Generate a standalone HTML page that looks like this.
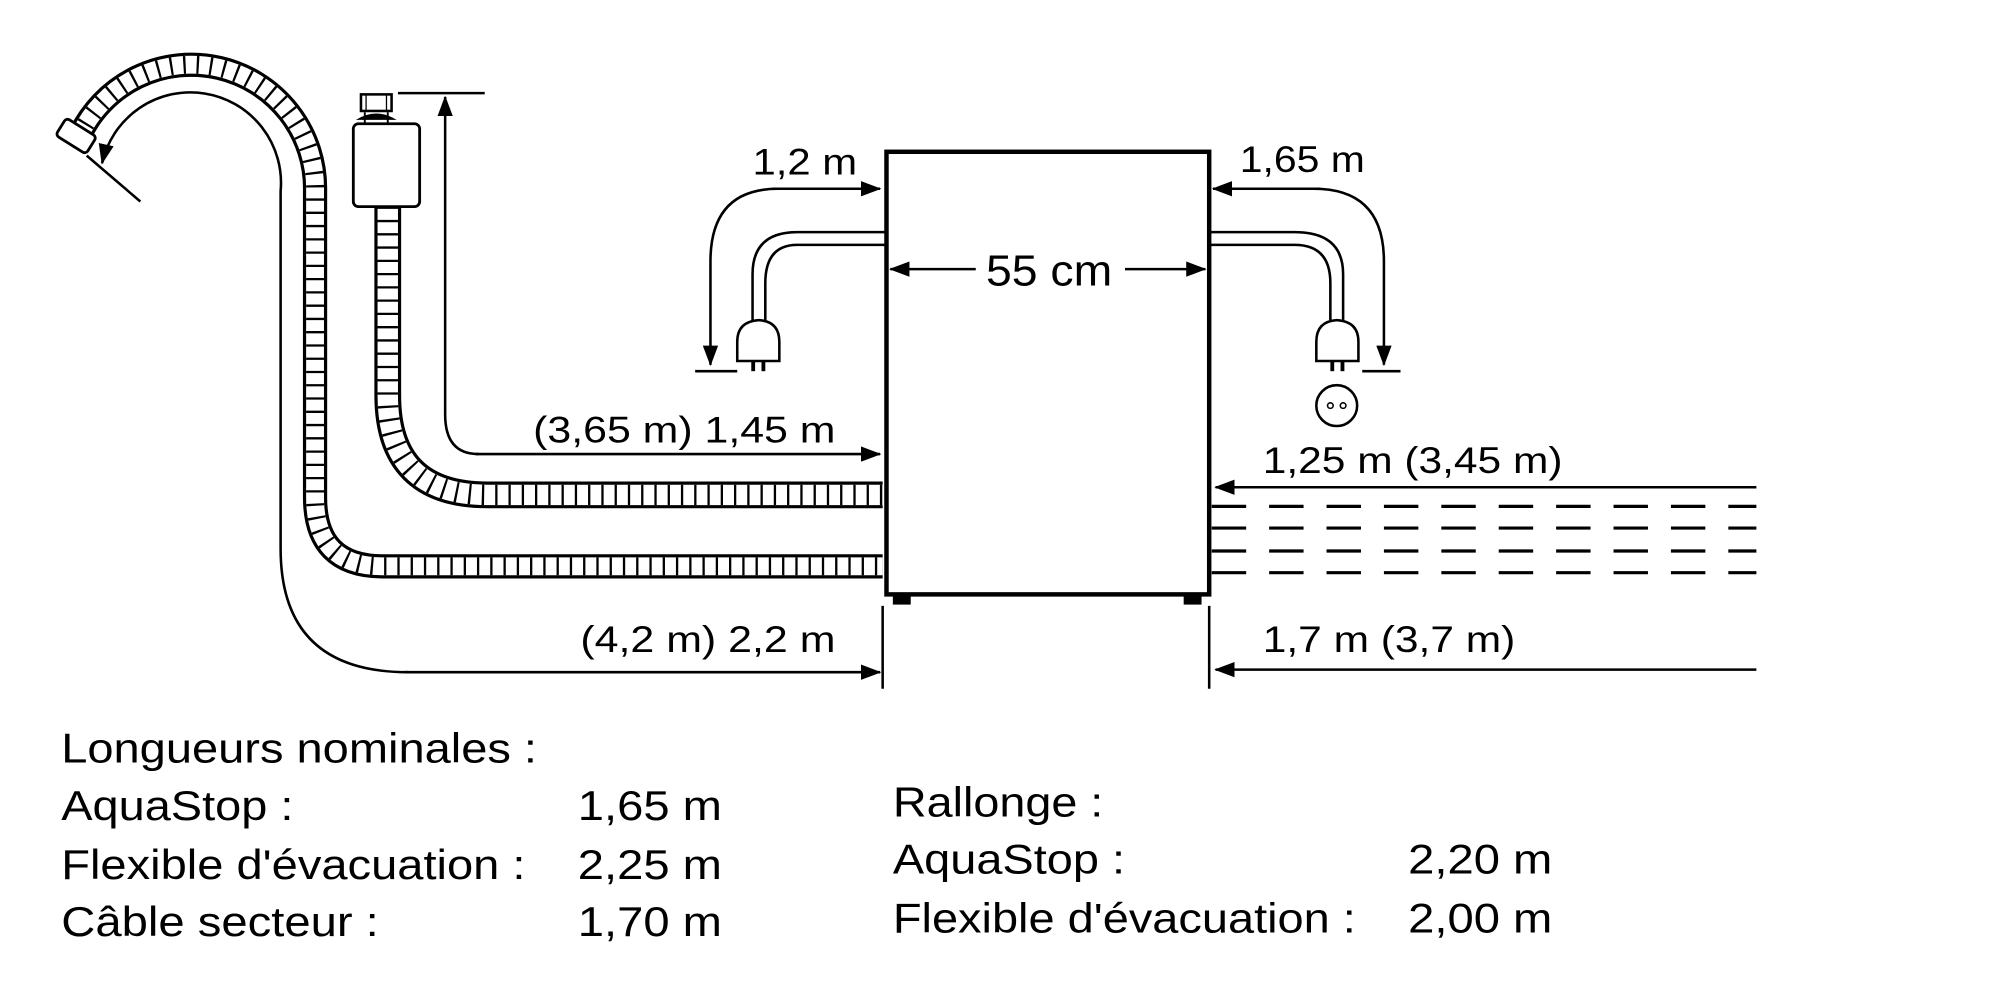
<!DOCTYPE html>
<html><head><meta charset="utf-8"><style>
html,body{margin:0;padding:0;background:#fff;}
svg{display:block;}
text{font-family:"Liberation Sans",Arial,sans-serif;fill:#000;}
</style></head><body>
<svg width="2000" height="1000" viewBox="0 0 1568 784" preserveAspectRatio="none" xmlns="http://www.w3.org/2000/svg">
<defs>
<marker id="a" markerWidth="16" markerHeight="12" refX="15" refY="6" orient="auto" markerUnits="userSpaceOnUse">
<path d="M0,0 L16,6 L0,12 Z" fill="#000"/>
</marker>
</defs>
<rect width="1568" height="784" fill="#fff"/>

<!-- drain hose -->
<g fill="none">
<path d="M62,107 A97,97 0 0 1 247,150 L247,390 Q247,444 300,444 L692,444" stroke="#000" stroke-width="19"/>
<path d="M62,107 A97,97 0 0 1 247,150 L247,390 Q247,444 300,444 L692,444" stroke="#fff" stroke-width="14"/>
<path d="M62,107 A97,97 0 0 1 247,150 L247,390 Q247,444 300,444 L692,444" stroke="#000" stroke-width="14" stroke-dasharray="1.8 8.6"/>
</g>
<g transform="translate(60,108) rotate(32)">
<rect x="-15" y="-9" width="28" height="16" rx="3" fill="#fff" stroke="#000" stroke-width="2.2"/>
</g>
<line x1="68" y1="122" x2="110" y2="158" stroke="#000" stroke-width="2"/>

<path d="M320,527 Q220,527 220,430 L220,150 A71,71 0 0 0 80,128" fill="none" stroke="#000" stroke-width="2" marker-end="url(#a)"/>
<path d="M318,527 L690,527" fill="none" stroke="#000" stroke-width="2" marker-end="url(#a)"/>

<!-- inlet hose -->
<g fill="none">
<path d="M304,162 L304,310 Q304,388 382,388 L692,388" stroke="#000" stroke-width="21"/>
<path d="M304,162 L304,310 Q304,388 382,388 L692,388" stroke="#fff" stroke-width="16"/>
<path d="M304,162 L304,310 Q304,388 382,388 L692,388" stroke="#000" stroke-width="16" stroke-dasharray="1.8 8.6"/>
</g>
<rect x="277" y="97" width="52" height="65" rx="4" fill="#fff" stroke="#000" stroke-width="2.2"/>
<rect x="283" y="74" width="24" height="13" fill="#fff" stroke="#000" stroke-width="2"/>
<line x1="287" y1="74" x2="287" y2="87" stroke="#000" stroke-width="1"/>
<line x1="303" y1="74" x2="303" y2="87" stroke="#000" stroke-width="1"/>
<path d="M279,94 Q295,84 311,94 Z" fill="#000"/>
<line x1="286" y1="88" x2="286" y2="97" stroke="#000" stroke-width="1.5"/>
<line x1="304" y1="88" x2="304" y2="97" stroke="#000" stroke-width="1.5"/>

<line x1="312" y1="73" x2="380" y2="73" stroke="#000" stroke-width="2"/>
<path d="M375,356 Q349,356 349,325 L349,76" fill="none" stroke="#000" stroke-width="2" marker-end="url(#a)"/>
<path d="M373,356 L690,356" fill="none" stroke="#000" stroke-width="2" marker-end="url(#a)"/>

<!-- appliance box -->
<rect x="695" y="119" width="253" height="347" fill="#fff" stroke="#000" stroke-width="3.5"/>
<rect x="700" y="466" width="14" height="8" fill="#000"/>
<rect x="928" y="466" width="14" height="8" fill="#000"/>
<line x1="692" y1="475" x2="692" y2="540" stroke="#000" stroke-width="2"/>
<line x1="948" y1="475" x2="948" y2="540" stroke="#000" stroke-width="2"/>

<line x1="765" y1="211" x2="698" y2="211" stroke="#000" stroke-width="2" marker-end="url(#a)"/>
<line x1="882" y1="211" x2="945" y2="211" stroke="#000" stroke-width="2" marker-end="url(#a)"/>
<text x="773" y="224" font-size="34" textLength="99" lengthAdjust="spacingAndGlyphs">55 cm</text>

<!-- left cable -->
<path d="M695,182 L625,182 Q590,182 590,215 L590,258 M695,192 L625,192 Q600,192 600,222 L600,258" fill="none" stroke="#000" stroke-width="2"/>
<path d="M578,283 L578,268 Q578,252 595,251 Q611,252 611,268 L611,283 Z" fill="#fff" stroke="#000" stroke-width="2"/>
<rect x="589" y="283" width="3" height="8" fill="#000"/>
<rect x="597" y="283" width="3" height="8" fill="#000"/>
<path d="M605,148 L690,148" fill="none" stroke="#000" stroke-width="2" marker-end="url(#a)"/>
<path d="M610,148 Q557,148 557,205 L557,286" fill="none" stroke="#000" stroke-width="2" marker-end="url(#a)"/>
<line x1="545" y1="291" x2="578" y2="291" stroke="#000" stroke-width="2"/>
<text x="590" y="137" font-size="29" textLength="82" lengthAdjust="spacingAndGlyphs">1,2 m</text>

<!-- right cable -->
<path d="M948,182 L1015,182 Q1053,182 1053,215 L1053,258 M948,192 L1015,192 Q1043,192 1043,222 L1043,258" fill="none" stroke="#000" stroke-width="2"/>
<path d="M1032,283 L1032,268 Q1032,252 1048,251 Q1065,252 1065,268 L1065,283 Z" fill="#fff" stroke="#000" stroke-width="2"/>
<rect x="1043" y="283" width="3" height="8" fill="#000"/>
<rect x="1051" y="283" width="3" height="8" fill="#000"/>
<path d="M1035,148 L951,148" fill="none" stroke="#000" stroke-width="2" marker-end="url(#a)"/>
<path d="M1030,148 Q1085,148 1085,205 L1085,286" fill="none" stroke="#000" stroke-width="2" marker-end="url(#a)"/>
<line x1="1068" y1="291" x2="1098" y2="291" stroke="#000" stroke-width="2"/>
<circle cx="1048" cy="318" r="16" fill="#fff" stroke="#000" stroke-width="2"/>
<circle cx="1043" cy="318" r="2.2" fill="none" stroke="#000" stroke-width="1.2"/>
<circle cx="1053" cy="318" r="2.2" fill="none" stroke="#000" stroke-width="1.2"/>
<text x="972" y="135" font-size="29" textLength="98" lengthAdjust="spacingAndGlyphs">1,65 m</text>

<line x1="1377" y1="382" x2="953" y2="382" stroke="#000" stroke-width="2" marker-end="url(#a)"/>
<text x="990" y="371" font-size="29" textLength="235" lengthAdjust="spacingAndGlyphs">1,25 m (3,45 m)</text>
<g stroke="#000" stroke-width="2.5" stroke-dasharray="27 18">
<line x1="950" y1="397" x2="1377" y2="397"/>
<line x1="950" y1="414" x2="1377" y2="414"/>
<line x1="950" y1="432" x2="1377" y2="432"/>
<line x1="950" y1="449" x2="1377" y2="449"/>
</g>
<line x1="1377" y1="525" x2="953" y2="525" stroke="#000" stroke-width="2" marker-end="url(#a)"/>
<text x="990" y="511" font-size="29" textLength="198" lengthAdjust="spacingAndGlyphs">1,7 m (3,7 m)</text>

<text x="418" y="347" font-size="29" textLength="237" lengthAdjust="spacingAndGlyphs">(3,65 m) 1,45 m</text>
<text x="455" y="511" font-size="29" textLength="200" lengthAdjust="spacingAndGlyphs">(4,2 m) 2,2 m</text>

<g font-size="33">
<text x="48" y="598" textLength="373" lengthAdjust="spacingAndGlyphs">Longueurs nominales :</text>
<text x="48" y="643" textLength="182" lengthAdjust="spacingAndGlyphs">AquaStop :</text>
<text x="453" y="643" textLength="113" lengthAdjust="spacingAndGlyphs">1,65 m</text>
<text x="48" y="689" textLength="364" lengthAdjust="spacingAndGlyphs">Flexible d'évacuation :</text>
<text x="453" y="689" textLength="113" lengthAdjust="spacingAndGlyphs">2,25 m</text>
<text x="48" y="734" textLength="249" lengthAdjust="spacingAndGlyphs">Câble secteur :</text>
<text x="453" y="734" textLength="113" lengthAdjust="spacingAndGlyphs">1,70 m</text>
<text x="700" y="640" textLength="165" lengthAdjust="spacingAndGlyphs">Rallonge :</text>
<text x="700" y="685" textLength="182" lengthAdjust="spacingAndGlyphs">AquaStop :</text>
<text x="1104" y="685" textLength="113" lengthAdjust="spacingAndGlyphs">2,20 m</text>
<text x="700" y="731" textLength="363" lengthAdjust="spacingAndGlyphs">Flexible d'évacuation :</text>
<text x="1104" y="731" textLength="113" lengthAdjust="spacingAndGlyphs">2,00 m</text>
</g>
</svg>
</body></html>
